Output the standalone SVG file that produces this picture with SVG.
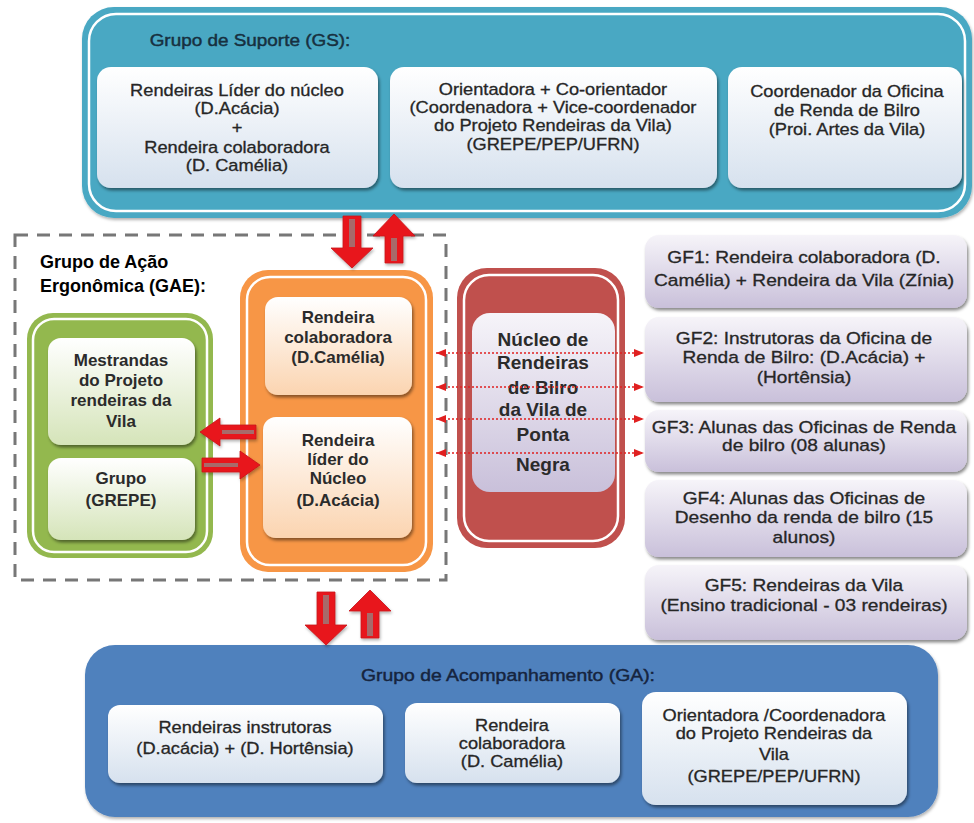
<svg xmlns="http://www.w3.org/2000/svg" width="974" height="823" viewBox="0 0 974 823">
<defs>
<style>
.s{font-family:"Liberation Sans",Arial,sans-serif;font-size:16px;fill:#262626;stroke:#262626;stroke-width:0.3;text-anchor:middle;transform-box:fill-box;transform-origin:center;transform:scaleX(1.14)}
.gf{font-size:16.8px}
.b{font-family:"Liberation Sans",Arial,sans-serif;font-weight:bold;font-size:17px;fill:#2b2b2b;text-anchor:middle}
.nb{font-size:19px}
.title{font-family:"Liberation Sans",Arial,sans-serif;text-anchor:middle;stroke-width:0.45;transform-box:fill-box;transform-origin:center;transform:scaleX(1.14)}
.gae{font-family:"Liberation Sans",Arial,sans-serif;font-weight:bold;font-size:18px;fill:#000}
.wl{fill:none;stroke:#ffffff;stroke-width:2.5}
.arr{fill:#e8171d;stroke:#c81218;stroke-width:0.8}
.strip{fill:#a86a6a}
.dot{stroke:#e02020;stroke-width:1.6;stroke-dasharray:2 2;fill:none;marker-start:url(#ah);marker-end:url(#ah)}
</style>
<linearGradient id="gBlue" x1="0" y1="0" x2="0" y2="1"><stop offset="0" stop-color="#ffffff"/><stop offset="1" stop-color="#d6e1ee"/></linearGradient>
<linearGradient id="gLav" x1="0" y1="0" x2="0" y2="1"><stop offset="0" stop-color="#f6f4f9"/><stop offset="1" stop-color="#c9c0da"/></linearGradient>
<linearGradient id="gOr" x1="0" y1="0" x2="0" y2="1"><stop offset="0" stop-color="#ffffff"/><stop offset="1" stop-color="#fbd4b0"/></linearGradient>
<linearGradient id="gGr" x1="0" y1="0" x2="0" y2="1"><stop offset="0" stop-color="#ffffff"/><stop offset="1" stop-color="#d5e4b9"/></linearGradient>
<filter id="sh" x="-10%" y="-10%" width="125%" height="130%"><feDropShadow dx="1.5" dy="2.5" stdDeviation="1.5" flood-color="#000" flood-opacity="0.45"/></filter>
<filter id="sh2" x="-10%" y="-10%" width="125%" height="130%"><feDropShadow dx="1" dy="2" stdDeviation="1.5" flood-color="#000" flood-opacity="0.3"/></filter>
<marker id="ah" viewBox="0 0 10 8" refX="10" refY="4" markerWidth="10" markerHeight="8" markerUnits="userSpaceOnUse" orient="auto-start-reverse"><path d="M0,0 L10,4 L0,8 Z" fill="#e02020"/></marker>
</defs>
<rect width="974" height="823" fill="#ffffff"/>

<g id="gs">
<rect x="82" y="7" width="890" height="211" rx="32" fill="#48a8c3" filter="url(#sh2)"/>
<rect class="wl" x="89" y="14" width="876" height="197" rx="27"/>
<text class="title" x="250" y="46" font-size="16.6" fill="#17303f" stroke="#17303f">Grupo de  Suporte (GS):</text>
<g id="gs1">
<rect x="97" y="67" width="281" height="121" rx="14" fill="url(#gBlue)" filter="url(#sh)"/>
<text class="s" x="237" y="96">Rendeiras Líder do núcleo</text>
<text class="s" x="237" y="114">(D.Acácia)</text>
<text class="s" x="237" y="133">+</text>
<text class="s" x="237" y="153">Rendeira colaboradora</text>
<text class="s" x="237" y="171">(D. Camélia)</text>
</g>
<g id="gs2">
<rect x="390" y="67" width="327" height="121" rx="14" fill="url(#gBlue)" filter="url(#sh)"/>
<text class="s" x="553" y="95">Orientadora + Co-orientador</text>
<text class="s" x="553" y="113">(Coordenadora + Vice-coordenador</text>
<text class="s" x="553" y="131">do Projeto Rendeiras da Vila)</text>
<text class="s" x="553" y="150">(GREPE/PEP/UFRN)</text>
</g>
<g id="gs3">
<rect x="728" y="67" width="234" height="121" rx="14" fill="url(#gBlue)" filter="url(#sh)"/>
<text class="s" x="847" y="97">Coordenador da Oficina</text>
<text class="s" x="847" y="116">de Renda de Bilro</text>
<text class="s" x="847" y="135">(Proi. Artes da Vila)</text>
</g>
</g>

<g id="gae">
<rect x="15" y="235" width="431" height="345" fill="none" stroke="#777" stroke-width="3" stroke-dasharray="13 9"/>
<text class="gae" x="40" y="268">Grupo de Ação</text>
<text class="gae" x="40" y="292">Ergonômica (GAE):</text>
</g>

<g id="green">
<rect x="27" y="313" width="186" height="245" rx="26" fill="#93b84e"/>
<rect class="wl" x="33" y="319" width="174" height="233" rx="21" stroke-width="2"/>
<g id="mestrandas">
<rect x="48" y="338" width="147" height="107" rx="13" fill="url(#gGr)" filter="url(#sh)"/>
<text class="b" x="121" y="366">Mestrandas</text>
<text class="b" x="121" y="386">do Projeto</text>
<text class="b" x="121" y="406">rendeiras da</text>
<text class="b" x="121" y="427">Vila</text>
</g>
<g id="grepe">
<rect x="48" y="458" width="147" height="82" rx="13" fill="url(#gGr)" filter="url(#sh)"/>
<text class="b" x="121" y="484">Grupo</text>
<text class="b" x="121" y="506">(GREPE)</text>
</g>
</g>

<g id="orange">
<rect x="240" y="270" width="193" height="302" rx="28" fill="#f79646"/>
<rect class="wl" x="247" y="277" width="179" height="288" rx="23" stroke-width="2"/>
<g id="camelia">
<rect x="265" y="297" width="147" height="98" rx="13" fill="url(#gOr)" filter="url(#sh)"/>
<text class="b" x="338" y="323">Rendeira</text>
<text class="b" x="338" y="343">colaboradora</text>
<text class="b" x="338" y="363">(D.Camélia)</text>
</g>
<g id="acacia">
<rect x="263" y="417" width="149" height="121" rx="13" fill="url(#gOr)" filter="url(#sh)"/>
<text class="b" x="338" y="446">Rendeira</text>
<text class="b" x="338" y="465">líder do</text>
<text class="b" x="338" y="484">Núcleo</text>
<text class="b" x="338" y="506">(D.Acácia)</text>
</g>
</g>

<g id="nucleo">
<rect x="457" y="268" width="168" height="280" rx="30" fill="#c0504d"/>
<rect class="wl" x="464" y="275" width="154" height="266" rx="25" stroke-width="2"/>
<rect x="472" y="313" width="143" height="179" rx="18" fill="url(#gLav)"/>
<text class="b nb" x="543" y="346" fill="#222">Núcleo de</text>
<text class="b nb" x="543" y="369" fill="#222">Rendeiras</text>
<text class="b nb" x="543" y="394" fill="#222">de Bilro</text>
<text class="b nb" x="543" y="416" fill="#222">da Vila de</text>
<text class="b nb" x="543" y="441" fill="#222">Ponta</text>
<text class="b nb" x="543" y="471" fill="#000">Negra</text>
</g>

<g id="gf1">
<rect x="645" y="235" width="322" height="73" rx="14" fill="url(#gLav)" filter="url(#sh)"/>
<text class="s gf" x="804" y="263">GF1: Rendeira colaboradora (D.</text>
<text class="s gf" x="804" y="286">Camélia) + Rendeira da Vila (Zínia)</text>
</g>
<g id="gf2">
<rect x="645" y="317" width="322" height="85" rx="14" fill="url(#gLav)" filter="url(#sh)"/>
<text class="s gf" x="804" y="344">GF2: Instrutoras da Oficina de</text>
<text class="s gf" x="804" y="363">Renda de Bilro: (D.Acácia) +</text>
<text class="s gf" x="804" y="383">(Hortênsia)</text>
</g>
<g id="gf3">
<rect x="645" y="410" width="322" height="62" rx="14" fill="url(#gLav)" filter="url(#sh)"/>
<text class="s gf" x="804" y="433">GF3: Alunas das Oficinas de Renda</text>
<text class="s gf" x="804" y="451">de bilro (08 alunas)</text>
</g>
<g id="gf4">
<rect x="645" y="480" width="322" height="77" rx="14" fill="url(#gLav)" filter="url(#sh)"/>
<text class="s gf" x="804" y="504">GF4: Alunas das Oficinas de</text>
<text class="s gf" x="804" y="523">Desenho da renda de bilro (15</text>
<text class="s gf" x="804" y="543">alunos)</text>
</g>
<g id="gf5">
<rect x="645" y="565" width="322" height="75" rx="14" fill="url(#gLav)" filter="url(#sh)"/>
<text class="s gf" x="804" y="591">GF5: Rendeiras da Vila</text>
<text class="s gf" x="804" y="611">(Ensino tradicional - 03 rendeiras)</text>
</g>

<g id="ga">
<rect x="85" y="645" width="853" height="172" rx="30" fill="#4f81bd" filter="url(#sh2)"/>
<text class="title" x="508" y="681" font-size="17" fill="#16243e" stroke="#16243e">Grupo de Acompanhamento (GA):</text>
<g id="ga1">
<rect x="108" y="705" width="275" height="78" rx="12" fill="url(#gBlue)" filter="url(#sh)"/>
<text class="s" x="245" y="733">Rendeiras instrutoras</text>
<text class="s" x="245" y="754">(D.acácia) + (D. Hortênsia)</text>
</g>
<g id="ga2">
<rect x="405" y="703" width="215" height="80" rx="12" fill="url(#gBlue)" filter="url(#sh)"/>
<text class="s" x="512" y="731">Rendeira</text>
<text class="s" x="512" y="749">colaboradora</text>
<text class="s" x="512" y="767">(D. Camélia)</text>
</g>
<g id="ga3">
<rect x="642" y="692" width="265" height="113" rx="14" fill="url(#gBlue)" filter="url(#sh)"/>
<text class="s" x="774" y="721">Orientadora /Coordenadora</text>
<text class="s" x="774" y="739">do Projeto Rendeiras da</text>
<text class="s" x="774" y="760">Vila</text>
<text class="s" x="774" y="782">(GREPE/PEP/UFRN)</text>
</g>
</g>

<g id="connectors">
<path class="arr" d="M343,216 H361 V248 H373 L352,268 L331,248 H343 Z" filter="url(#sh2)"/>
<rect class="strip" x="349" y="219" width="6" height="28"/>
<path class="arr" d="M385,263 H403 V236 H415 L394,214 L373,236 H385 Z" filter="url(#sh2)"/>
<rect class="strip" x="391" y="238" width="6" height="23"/>
<path class="arr" d="M256,425 V439 H220 V446 L200,432 L220,418 V425 Z" filter="url(#sh2)"/>
<rect class="strip" x="222" y="430" width="32" height="4"/>
<path class="arr" d="M202,458 H240 V451 L260,465 L240,479 V472 H202 Z" filter="url(#sh2)"/>
<rect class="strip" x="204" y="463" width="34" height="4"/>
<path class="arr" d="M317,592 H335 V625 H347 L326,645 L305,625 H317 Z" filter="url(#sh2)"/>
<rect class="strip" x="323" y="595" width="6" height="29"/>
<path class="arr" d="M361,638 H379 V611 H391 L370,590 L349,611 H361 Z" filter="url(#sh2)"/>
<rect class="strip" x="367" y="613" width="6" height="23"/>
<line class="dot" x1="436" y1="353" x2="644" y2="353"/>
<line class="dot" x1="436" y1="387" x2="644" y2="387"/>
<line class="dot" x1="436" y1="419" x2="644" y2="419"/>
<line class="dot" x1="436" y1="453" x2="644" y2="453"/>
</g>
</svg>
